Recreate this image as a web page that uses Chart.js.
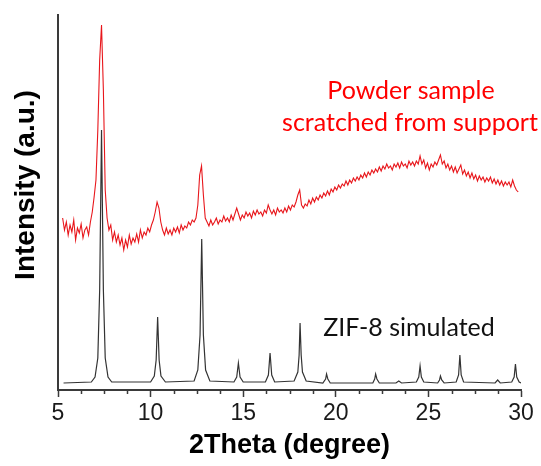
<!DOCTYPE html>
<html>
<head>
<meta charset="utf-8">
<script src="https://cdn.jsdelivr.net/npm/chart.js@4"></script>
<style>
  html, body { margin: 0; padding: 0; background: #fff; }
  #wrap { width: 541px; height: 466px; }
</style>
</head>
<body>
<div id="wrap"><canvas id="chart" width="541" height="466"></canvas></div>
<script>
// simulated ZIF-8 pattern (2theta, intensity a.u.)
const simX = [5.3, 6.8, 7.0, 7.15, 7.25, 7.35, 7.45, 7.55, 7.7, 7.9,
  10.0, 10.2, 10.3, 10.38, 10.46, 10.56, 10.8,
  12.35, 12.55, 12.67, 12.76, 12.85, 12.97, 13.2,
  14.5, 14.65, 14.74, 14.83, 15.0,
  16.2, 16.36, 16.45, 16.54, 16.7,
  17.75, 17.95, 18.02, 18.07, 18.13, 18.2, 18.4,
  19.3, 19.45, 19.5, 19.57, 19.7,
  22.0, 22.1, 22.15, 22.22, 22.35,
  23.25, 23.4, 23.55,
  24.35, 24.48, 24.55, 24.62, 24.75,
  25.5, 25.6, 25.65, 25.72, 25.85,
  26.5, 26.63, 26.7, 26.77, 26.9,
  28.6, 28.74, 28.88,
  29.5, 29.63, 29.7, 29.77, 29.9, 30.0];
const simY = [7, 8, 13, 32, 100, 260, 100, 32, 13, 8,
  8, 14, 30, 73, 30, 14, 8,
  9, 20, 55, 151, 55, 20, 9,
  8, 13, 27, 13, 8,
  8, 15, 37, 15, 8,
  9, 18, 35, 67, 35, 18, 9,
  7, 11, 16, 11, 7,
  7, 11, 16, 11, 7,
  7, 9, 7,
  8, 13, 24, 13, 8,
  7, 10, 14, 10, 7,
  8, 15, 35, 15, 8,
  7, 10, 7,
  8, 13, 26, 13, 8, 7];

// measured powder pattern, 2theta from 5.25 in 0.1 steps
const powderStart = 5.25;
const powderStep = 0.1;
const powderY = [
  172, 160, 168, 155, 165, 158, 170, 150, 162, 157,
  166, 152, 160, 163, 155, 168, 178, 193, 210, 260,
  330, 365, 300, 200, 172, 160, 165, 150, 158, 148,
  155, 145, 152, 140, 150, 143, 155, 146, 152, 148,
  156, 148, 160, 152, 158, 155, 162, 158, 165, 170,
  178, 188, 182, 168, 160, 155, 162, 156, 160, 155,
  162, 158, 163, 157, 165, 160, 164, 162, 168, 165,
  170, 168, 172, 185, 215, 224, 195, 172, 168, 164,
  170, 165, 168, 172, 166, 170, 168, 174, 169, 172,
  168, 175, 170, 176, 182, 176, 170, 175, 172, 178,
  174, 177, 172, 179, 175, 180, 176, 178, 174, 180,
  177, 185, 180, 176, 180, 175, 182, 178, 180, 177,
  182, 178, 184, 180, 185, 183, 188, 195, 200, 185,
  182, 186, 184, 190, 186, 192, 188, 193, 190, 195,
  192, 197, 194, 199, 195, 201, 198, 203, 200, 205,
  202, 206, 204, 209, 205, 210, 207, 212, 209, 213,
  210, 215, 212, 217, 213, 218, 215, 220, 217, 221,
  218, 223, 219, 224, 221, 226, 222, 224, 220, 226,
  223, 227, 222, 228, 224, 226, 222, 229, 225, 228,
  224, 229, 226, 234, 226, 230, 222, 227, 220, 226,
  223, 228, 225, 230, 235, 226, 229, 222, 226, 220,
  224, 218, 223, 217, 221, 225, 216, 220, 214, 218,
  212, 217, 211, 215, 209, 214, 210, 213, 208, 212,
  209, 213, 207, 211, 206, 210, 205, 209, 204, 208,
  205, 208, 203, 210, 204, 200, 198];

const xTicks = [5, 10, 15, 20, 25, 30];
const minorStep = 1.25;

const simData = simX.map((x, i) => ({ x: x, y: simY[i] }));
const powderData = powderY.map((y, i) => ({ x: powderStart + i * powderStep, y: y }));

const axisColor = "#3a3a3a";

const labelsPlugin = {
  id: "labels",
  afterDraw(chart) {
    const c = chart.ctx;
    const xs = chart.scales.x;
    // minor ticks
    c.save();
    c.strokeStyle = axisColor;
    c.lineWidth = 1.5;
    for (let v = xTicks[0]; v < xTicks[xTicks.length - 1]; v += minorStep) {
      if (v % 5 === 0) continue;
      const px = Math.round(xs.getPixelForValue(v)) + 0.5;
      c.beginPath();
      c.moveTo(px, xs.top);
      c.lineTo(px, xs.top + 4);
      c.stroke();
    }
    // y title
    c.translate(26, 185);
    c.rotate(-Math.PI / 2);
    c.fillStyle = "#000";
    c.font = "bold 28px 'Liberation Sans', Arial, sans-serif";
    c.textAlign = "center";
    c.textBaseline = "middle";
    c.fillText("Intensity (a.u.)", 0, 0);
    c.restore();

    c.save();
    c.textAlign = "center";
    c.textBaseline = "middle";
    c.font = "25px Lato, 'Open Sans', sans-serif";
    c.fillStyle = "#ff0000";
    c.fillText("Powder sample", 411, 91);
    c.fillText("scratched from support", 410, 123);
    c.fillStyle = "#111";
    c.fillText("ZIF-8 simulated", 409, 328);
    c.restore();
  }
};

new Chart(document.getElementById("chart").getContext("2d"), {
  type: "line",
  data: {
    datasets: [
      { label: "ZIF-8 simulated", data: simData, borderColor: "#333333", borderWidth: 1.2, pointRadius: 0, tension: 0 },
      { label: "Powder sample", data: powderData, borderColor: "#e8161b", borderWidth: 1.1, pointRadius: 0, tension: 0 }
    ]
  },
  options: {
    responsive: false,
    animation: false,
    layout: { padding: { top: 15, right: 20, left: 0, bottom: 0 } },
    plugins: { legend: { display: false }, tooltip: { enabled: false } },
    scales: {
      x: {
        type: "linear",
        min: 5,
        max: 30,
        afterFit(scale) { scale.height = 76; },
        afterBuildTicks(scale) { scale.ticks = xTicks.map(v => ({ value: v })); },
        ticks: { color: "#1a1a1a", font: { size: 23, family: "'Liberation Sans', Arial, sans-serif" }, padding: 3, maxRotation: 0 },
        grid: { drawOnChartArea: false, drawTicks: true, tickLength: 7, tickColor: axisColor, tickWidth: 1.5 },
        border: { display: true, color: axisColor, width: 2 },
        title: {
          display: true,
          text: "2Theta (degree)",
          color: "#000",
          font: { size: 27, weight: "bold", family: "'Liberation Sans', Arial, sans-serif" },
          padding: { top: 0, bottom: 4 }
        }
      },
      y: {
        min: 0,
        max: 375,
        afterFit(scale) { scale.width = 58; },
        ticks: { display: false },
        grid: { display: false },
        border: { display: true, color: axisColor, width: 2 }
      }
    }
  },
  plugins: [labelsPlugin]
});
</script>
</body>
</html>
